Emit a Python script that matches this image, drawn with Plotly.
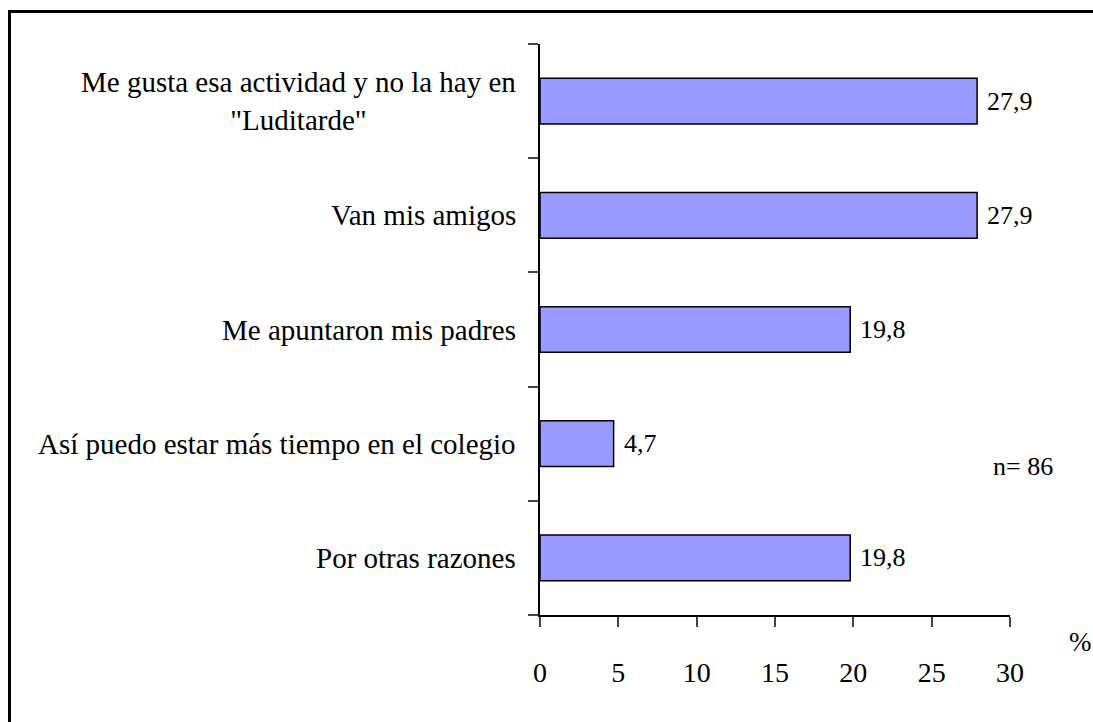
import plotly.graph_objects as go

# reasons (top to bottom) and share in %
categories = [
    'Me gusta esa actividad y no la hay en<br>"Luditarde"',
    "Van mis amigos",
    "Me apuntaron mis padres",
    "Así puedo estar más tiempo en el colegio",
    "Por otras razones",
]
cat_ids = ["c1", "c2", "c3", "c4", "c5"]
values = [27.9, 27.9, 19.8, 4.7, 19.8]
x_ticks = [0, 5, 10, 15, 20, 25, 30]
sample_note = "n= 86"

W, H = 1093, 722
L, R, T, B = 540, 83, 44, 107
FONT = "Liberation Serif"


def px_x(p):
    return (p - L) / (W - L - R)


def px_y(p):
    return (H - B - p) / (H - T - B)


fig = go.Figure(go.Bar(
    x=values,
    y=cat_ids,
    orientation="h",
    marker=dict(color="#9999FF", line=dict(color="black", width=1.5)),
    width=0.4,
    hoverinfo="skip",
))

# category labels on the left (centered multi-line)
for cid, label in zip(cat_ids, categories):
    fig.add_annotation(x=0, xref="paper", y=cid, yref="y", text=label,
                       showarrow=False, xanchor="right", yanchor="middle",
                       xshift=-22, align="center",
                       font=dict(family=FONT, size=29))

# value labels
for cid, v in zip(cat_ids, values):
    fig.add_annotation(x=v, y=cid, text=f"{v:.1f}".replace(".", ","),
                       showarrow=False, xanchor="left", yanchor="middle",
                       xshift=8, font=dict(family=FONT, size=26))

fig.add_annotation(x=px_x(1023), y=px_y(466), xref="paper", yref="paper",
                   text=sample_note, showarrow=False,
                   xanchor="center", yanchor="middle",
                   font=dict(family=FONT, size=26))
fig.add_annotation(x=px_x(1080), y=px_y(642), xref="paper", yref="paper",
                   text="%", showarrow=False,
                   xanchor="center", yanchor="middle",
                   font=dict(family=FONT, size=27))

# outer frame (right and bottom edges fall outside the picture)
fig.add_shape(type="rect", xref="paper", yref="paper",
              x0=px_x(9.5), x1=px_x(1200), y0=px_y(800), y1=px_y(11.5),
              line=dict(color="black", width=3), fillcolor="rgba(0,0,0,0)")

fig.update_layout(
    width=W, height=H,
    margin=dict(l=L, r=R, t=T, b=B),
    paper_bgcolor="white", plot_bgcolor="white",
    font=dict(family=FONT, color="black"),
    showlegend=False,
    xaxis=dict(range=[0, 30], tickvals=x_ticks, ticks="outside", ticklen=10,
               tickwidth=1.5, showline=True, linecolor="black", linewidth=1.5,
               showgrid=False, zeroline=False,
               tickfont=dict(family=FONT, size=28), ticklabelstandoff=22),
    yaxis=dict(type="category", categoryorder="array",
               categoryarray=cat_ids[::-1], tickson="boundaries",
               ticks="outside", ticklen=10, tickwidth=1.5,
               showticklabels=False, showline=True, linecolor="black",
               linewidth=1.5, showgrid=False, zeroline=False),
)

# drop the default 8px body margin so the figure fills the window exactly
fig.write_html("out.html",
               config={"displayModeBar": False},
               post_script="document.body.style.margin='0';"
                           "document.body.style.overflow='hidden';")
